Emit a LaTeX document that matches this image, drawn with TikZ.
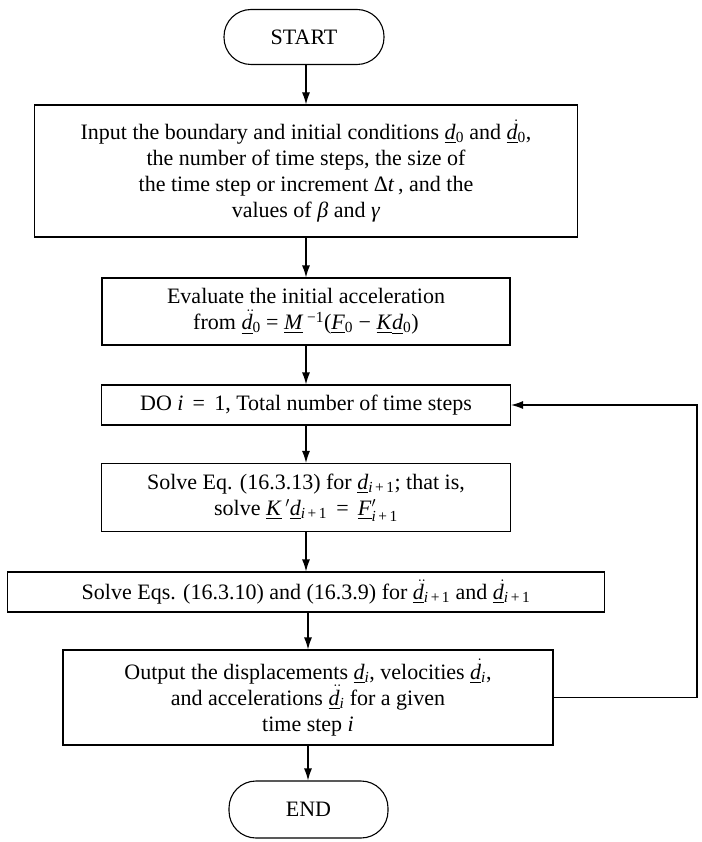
\documentclass[tikz,border=0pt]{standalone}
\usepackage{amsmath}
\usepackage{fontspec}
\setmainfont{Liberation Serif}
\usetikzlibrary{arrows.meta}
\newcommand{\ud}{\underline{\textit{d}}}
\newcommand{\udd}{\underline{$\skew{7}{\dot}{\textit{d}}$}}
\newcommand{\uddd}{\underline{$\skew{6}{\ddot}{\textit{d}}$}}
\newcommand{\sbx}[1]{$_{\text{#1}}$}
\newcommand{\ipo}{\sbx{\textit{i}\,+\,1}}
\tikzset{
  box/.style={draw, line width=1.1pt, align=center, inner sep=0pt,
    font=\fontsize{22}{26}\selectfont},
  term/.style={box, rounded corners=27pt},
  arr/.style={line width=1.1pt, -{Latex[length=12pt,width=8pt]}}
}
\begin{document}
\begin{tikzpicture}[x=1pt,y=-1pt]
\useasboundingbox (0,0) rectangle (701,842);
\node[term, minimum width=160pt, minimum height=55pt] (start) at (304,37) {START};
\node[box, minimum width=543pt, minimum height=132pt] (input) at (306,171)
  {Input the boundary and initial conditions \ud\sbx{0} and \udd\sbx{0},\\
   the number of time steps, the size of\\
   the time step or increment Δ\textit{t}\,, and the\\
   values of \textit{β} and \textit{γ}};
\node[box, minimum width=408pt, minimum height=67pt] (eval) at (306,311.5)
  {Evaluate the initial acceleration\\
   from \uddd\sbx{0} = \underline{\textit{M}}\,$^{\text{−1}}$(\underline{\textit{F}}\sbx{0} − \underline{\textit{K}}\ud\sbx{0})};
\node[box, minimum width=409pt, minimum height=40pt] (do) at (306,405)
  {DO \textit{i} \,=\, 1, Total number of time steps};
\node[box, minimum width=409pt, minimum height=68pt] (solve) at (306,497.5)
  {Solve Eq. (16.3.13) for \ud\ipo; that is,\\
   solve \underline{\textit{K}}\,$'$\ud\ipo{} \,=\, \underline{\textit{F}}$^{\prime}_{\text{\textit{i}\,+\,1}}$};
\node[box, minimum width=597pt, minimum height=40pt] (solves) at (306,592)
  {Solve Eqs. (16.3.10) and (16.3.9) for \uddd\ipo{} and \udd\ipo};
\node[box, minimum width=490pt, minimum height=95pt] (output) at (308,697.5)
  {Output the displacements \ud\sbx{\textit{i}}, velocities \udd\sbx{\textit{i}},\\
   and accelerations \uddd\sbx{\textit{i}} for a given\\
   time step \textit{i}};
\node[term, minimum width=159pt, minimum height=57pt] (end) at (308.5,809.5) {END};
\coordinate (lr) at (697,0);
\draw[arr] (start.south -| input.north) -- (input.north);
\draw[arr] (input.south) -- (eval.north);
\draw[arr] (eval.south) -- (do.north);
\draw[arr] (do.south) -- (solve.north);
\draw[arr] (solve.south) -- (solves.north);
\draw[arr] (solves.south -| output.north) -- (output.north);
\draw[arr] (output.south) -- (output.south |- end.north);
\draw[arr] (output.east) -- (output.east -| lr) -- (do.east -| lr) -- (do.east);
\end{tikzpicture}
\end{document}
